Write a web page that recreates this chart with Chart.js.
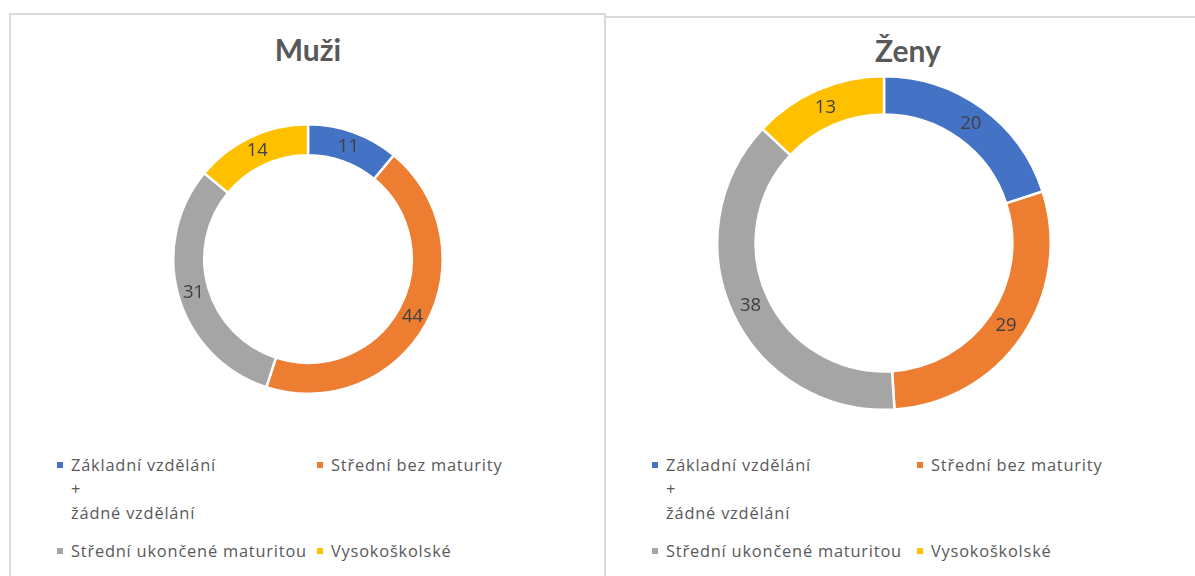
<!DOCTYPE html>
<html>
<head>
<meta charset="utf-8">
<script src="https://cdn.jsdelivr.net/npm/chart.js@4/dist/chart.umd.min.js"></script>
<style>
  html, body { margin: 0; padding: 0; background: #fff; }
  body { width: 1195px; height: 576px; position: relative; overflow: hidden; font-family: "Open Sans", sans-serif; }
  .panel { position: absolute; border: 2px solid #d9d9d9; background: #fff; box-sizing: border-box; }
  .title { position: absolute; width: 300px; text-align: center; font-family: Lato, sans-serif; font-weight: bold; font-size: 30px; line-height: 30px; color: #595959; }
  .cv { position: absolute; }
  .lg-text { position: absolute; font-size: 16.4px; letter-spacing: 0.8px; line-height: 24px; color: #595959; white-space: pre; }
  .lg-box { position: absolute; width: 6px; height: 6px; }
</style>
</head>
<body>
<div class="panel" style="left:9px; top:13px; width:597px; height:600px;"></div>
<div class="panel" style="left:604px; top:16px; width:600px; height:600px;"></div>

<div class="title" id="t0" style="left:158px; top:34px;"></div>
<div class="title" id="t1" style="left:758px; top:35px;"></div>

<canvas class="cv" id="c0" width="272" height="272" style="left:172px; top:123px; width:272px; height:272px;"></canvas>
<canvas class="cv" id="c1" width="336" height="336" style="left:716px; top:75px; width:336px; height:336px;"></canvas>

<div id="legends"></div>

<script>
// ---- data ----
const categories = ['Základní vzdělání\n+\nžádné vzdělání', 'Střední bez maturity', 'Střední ukončené maturitou', 'Vysokoškolské'];
const seriesNames = ['Muži', 'Ženy'];
const muziValues = [11, 44, 31, 14];
const zenyValues = [20, 29, 38, 13];
const sliceColors = ['#4472C4', '#ED7D31', '#A5A5A5', '#FFC000'];

// ---- titles ----
document.getElementById('t0').textContent = seriesNames[0];
document.getElementById('t1').textContent = seriesNames[1];

// ---- data label plugin ----
const sliceLabels = {
  id: 'sliceLabels',
  afterDatasetsDraw(chart) {
    const ctx = chart.ctx;
    const meta = chart.getDatasetMeta(0);
    const vals = chart.data.datasets[0].data;
    ctx.save();
    ctx.font = '18.5px "Open Sans", sans-serif';
    ctx.fillStyle = '#404040';
    ctx.textAlign = 'center';
    ctx.textBaseline = 'middle';
    meta.data.forEach((arc, i) => {
      const p = arc.tooltipPosition(true);
      ctx.fillText(String(vals[i]), p.x, p.y);
    });
    ctx.restore();
  }
};

function makeChart(id, values) {
  return new Chart(document.getElementById(id), {
    type: 'doughnut',
    data: {
      labels: categories,
      datasets: [{
        data: values,
        backgroundColor: sliceColors,
        borderColor: '#ffffff',
        borderWidth: 2.5,
        hoverOffset: 0
      }]
    },
    options: {
      responsive: false,
      animation: false,
      cutout: '77%',
      layout: { padding: 0 },
      plugins: { legend: { display: false }, title: { display: false }, tooltip: { enabled: false } }
    },
    plugins: [sliceLabels]
  });
}
makeChart('c0', muziValues);
makeChart('c1', zenyValues);

// ---- legends (HTML) ----
const legendPanels = [
  { cols: [57, 317] },
  { cols: [652, 917] }
];
const legendRowsTop = [453, 539];
const lg = document.getElementById('legends');
legendPanels.forEach(p => {
  categories.forEach((cat, i) => {
    const col = i % 2, row = Math.floor(i / 2);
    const box = document.createElement('div');
    box.className = 'lg-box';
    box.style.background = sliceColors[i];
    box.style.left = p.cols[col] + 'px';
    box.style.top = (legendRowsTop[row] + 9) + 'px';
    lg.appendChild(box);
    const t = document.createElement('div');
    t.className = 'lg-text';
    t.textContent = cat;
    t.style.left = (p.cols[col] + 14) + 'px';
    t.style.top = legendRowsTop[row] + 'px';
    lg.appendChild(t);
  });
});
</script>
</body>
</html>
